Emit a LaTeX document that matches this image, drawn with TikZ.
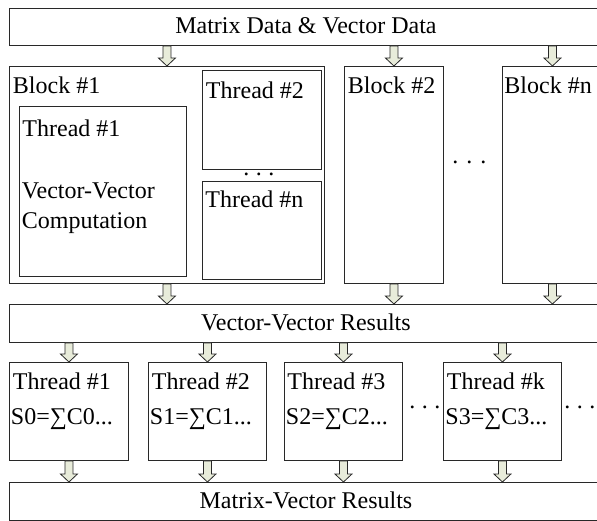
\documentclass[tikz,border=0pt]{standalone}
\usepackage{fontspec}
\setmainfont{Liberation Serif}
\usetikzlibrary{positioning,calc}

\definecolor{arrowfill}{RGB}{232,236,218}
\definecolor{edgegray}{RGB}{40,40,40}

\newcommand\dotrow[1]{.\hspace{#1}.\hspace{#1}.}

\begin{document}
\begin{tikzpicture}[x=1pt, y=-1pt, line width=0.9pt,
	font=\fontsize{24}{30}\selectfont,
	box/.style 2 args={draw=edgegray, rectangle, anchor=north west, inner sep=0pt,
		minimum width=#1, minimum height=#2},
	lbl/.style={inner sep=0pt, text height=17pt, text depth=5pt},
	title/.style={inner sep=0pt, text height=16pt, text depth=2pt},
	dots/.style={inner sep=0pt, anchor=base west},
	fat/.style={draw=edgegray, fill=arrowfill, line width=0.8pt,
		to path={let \p1=(\tikztostart), \p2=(\tikztotarget) in
			(\x1-4pt,\y1) -- (\x1+4pt,\y1) -- (\x1+4pt,\y2+8pt) -- (\x1+8.5pt,\y2+8pt)
			-- (\x1,\y2) -- (\x1-8.5pt,\y2+8pt) -- (\x1-4pt,\y2+8pt) -- cycle}}]

\useasboundingbox (0,0) rectangle (597,521);
\clip (0,0) rectangle (597,521);

% input
\node[box={593pt}{37pt}] (input) at (9,8) {};
\node[title] at (input.center) {Matrix Data \& Vector Data};

% first stage: blocks
\node[box={315pt}{217pt}] (b1) at (9,66) {};
\node[lbl, below right=10pt and 3.5pt of b1.north west] {Block \#1};

\node[box={167pt}{170pt}] (t1) at (19,106) {};
\node[lbl, below right=13pt and 3pt of t1.north west] {Thread \#1};
\node[inner sep=0pt, align=left, anchor=north west, below right=76pt and 2.5pt of t1.north west]
	{Vector-Vector\\Computation};

\node[box={119pt}{99pt}] (t2) at (202,70) {};
\node[lbl, below right=11pt and 3.5pt of t2.north west] {Thread \#2};
\node[dots] at (243,175.5) {\dotrow{6.5pt}};
\node[box={119pt}{98pt}] (tn) at (202,181) {};
\node[lbl, below right=9.5pt and 3pt of tn.north west] {Thread \#n};

\node[box={99pt}{217pt}] (b2) at (344,66) {};
\node[lbl, below right=10pt and 3.5pt of b2.north west] {Block \#2};
\node[dots] at (452,163.5) {\dotrow{8pt}};
\node[box={100pt}{217pt}] (bn) at (502,66) {};
\node[lbl, below right=10pt and 2pt of bn.north west] {Block \#n};

% partial results
\node[box={593pt}{38pt}] (vvr) at (9,304) {};
\node[title] at (vvr.center) {Vector-Vector Results};

% second stage: reduction threads
\node[box={119pt}{98pt}] (r1) at (9,362) {};
\node[lbl, below right=10pt and 3.5pt of r1.north west] {Thread \#1};
\node[lbl, below right=45pt and 1.5pt of r1.north west] {S0=∑C0...};

\node[box={118pt}{98pt}] (r2) at (148,362) {};
\node[lbl, below right=10pt and 3.5pt of r2.north west] {Thread \#2};
\node[lbl, below right=45pt and 1.5pt of r2.north west] {S1=∑C1...};

\node[box={118pt}{98pt}] (r3) at (284,362) {};
\node[lbl, below right=10pt and 3pt of r3.north west] {Thread \#3};
\node[lbl, below right=45pt and 1.5pt of r3.north west] {S2=∑C2...};
\node[dots] at (409,408.5) {\dotrow{6.5pt}};

\node[box={118pt}{98pt}] (rk) at (443,362) {};
\node[lbl, below right=10pt and 3.5pt of rk.north west] {Thread \#k};
\node[lbl, below right=45pt and 2pt of rk.north west] {S3=∑C3...};
\node[dots] at (564,408.5) {\dotrow{6.5pt}};

% output
\node[box={593pt}{38pt}] (mvr) at (9,482) {};
\node[title] at (mvr.center) {Matrix-Vector Results};

% data flow
\draw[fat] (input.south -| b1.north) to (b1.north);
\draw[fat] (input.south -| b2.north) to (b2.north);
\draw[fat] (input.south -| bn.north) to (bn.north);
\draw[fat] (b1.south) to (vvr.north -| b1.south);
\draw[fat] (b2.south) to (vvr.north -| b2.south);
\draw[fat] (bn.south) to (vvr.north -| bn.south);
\draw[fat] (vvr.south -| r1.north) to (r1.north);
\draw[fat] (vvr.south -| r2.north) to (r2.north);
\draw[fat] (vvr.south -| r3.north) to (r3.north);
\draw[fat] (vvr.south -| rk.north) to (rk.north);
\draw[fat] (r1.south) to (mvr.north -| r1.south);
\draw[fat] (r2.south) to (mvr.north -| r2.south);
\draw[fat] (r3.south) to (mvr.north -| r3.south);
\draw[fat] (rk.south) to (mvr.north -| rk.south);
\end{tikzpicture}
\end{document}
